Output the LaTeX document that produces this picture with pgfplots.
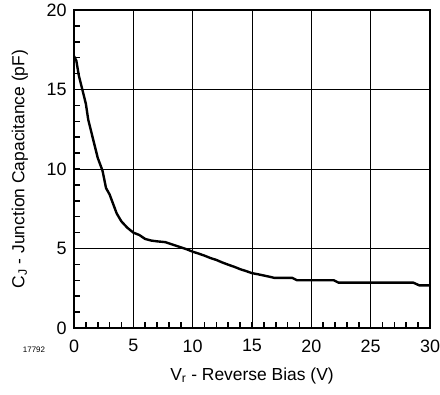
\documentclass[border=0pt]{standalone}
\usepackage{fontspec}
\setmainfont{Liberation Sans}
\usepackage{pgfplots}
\pgfplotsset{compat=1.18}

\begin{document}
\begin{tikzpicture}
\begin{axis}[
    scale only axis,
    width=356bp, height=318bp,
    xmin=0, xmax=30, ymin=0, ymax=20,
    xtick={0,5,...,30}, ytick={0,5,...,20},
    minor x tick num=4, minor y tick num=4,
    tick pos=left, tick align=inside,
    major tick length=6bp, minor tick length=6bp,
    every tick/.style={black, line width=1.6pt},
    grid=major,
    major grid style={black, line width=0.7pt},
    axis line style={line width=2.2pt},
    /pgf/number format/assume math mode=true,
    tick label style={font=\fontsize{18}{20}\selectfont},
    xticklabel style={yshift=-8bp},
    yticklabel style={xshift=-4bp},
    label style={font=\fontsize{17.5}{20}\selectfont},
    xlabel={V\textsubscript{r} - Reverse Bias (V)},
    ylabel={C\textsubscript{J} - Junction Capacitance (pF)},
    xlabel style={at={(axis description cs:0.5,-0.164)}, anchor=base},
    ylabel style={at={(axis description cs:-0.152,0.5)}, anchor=center},
]
\addplot[black, line width=2.4pt] coordinates {
(0,17.1) (0.2,16.8) (0.4,15.9) (0.7,15.0) (1.0,14.1) (1.2,13.1)
(1.6,11.9) (2.0,10.7) (2.4,9.9) (2.7,8.8) (3.0,8.4) (3.3,7.8)
(3.6,7.2) (4.0,6.7) (4.5,6.3) (5.0,6.0) (5.5,5.85) (6.0,5.6)
(6.5,5.5) (7.0,5.45) (7.7,5.4) (8.3,5.25) (8.9,5.1) (9.5,4.95)
(10.0,4.8) (10.5,4.68) (11.0,4.55) (11.5,4.4) (12.0,4.28) (12.5,4.12)
(13.0,3.98) (13.5,3.85) (14.0,3.7) (14.5,3.58) (15.0,3.45) (15.5,3.38)
(16.0,3.3) (16.5,3.22) (16.9,3.15) (18.4,3.15) (18.8,3.0) (21.9,3.0)
(22.3,2.85) (28.6,2.85) (29.1,2.68) (30,2.68)
};
\end{axis}
\node[font=\fontsize{8}{9}\selectfont] at (-40bp,-22bp) {17792};
\pgfresetboundingbox
\path (-74bp,-67bp) rectangle (366bp,328bp);
\end{tikzpicture}
\end{document}
